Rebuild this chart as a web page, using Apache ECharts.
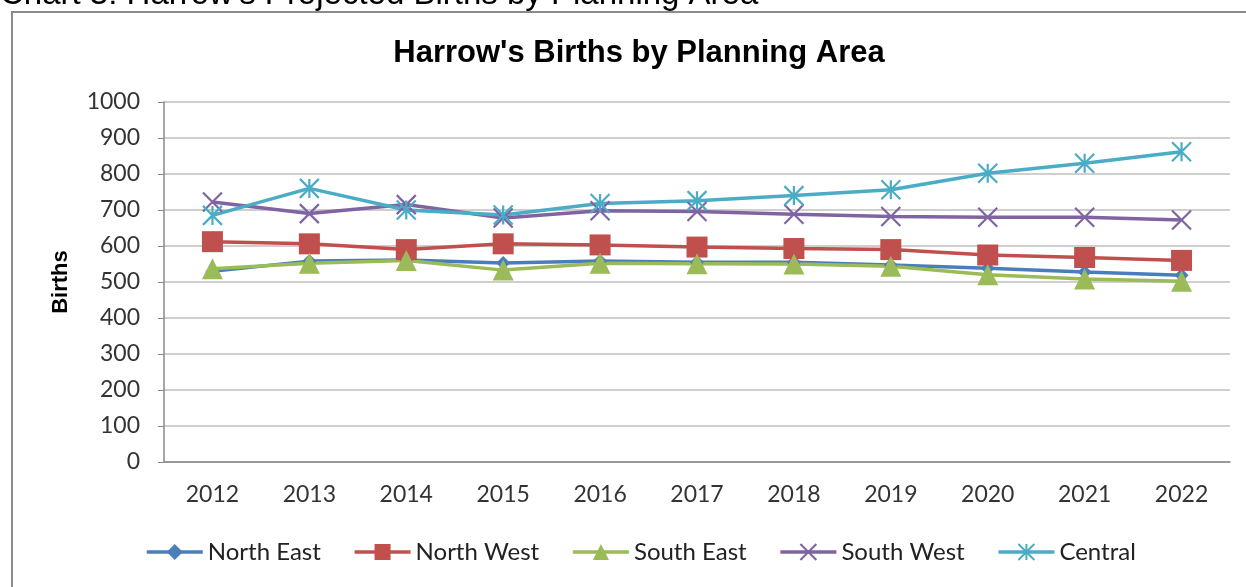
<!DOCTYPE html>
<html>
<head>
<meta charset="utf-8">
<script src="https://cdn.jsdelivr.net/npm/echarts@6/dist/echarts.min.js"></script>
<style>
  html, body { margin: 0; padding: 0; background: #fff; }
  #main { width: 1246px; height: 587px; }
</style>
</head>
<body>
<div id="main"></div>
<script>
const years = ['2012', '2013', '2014', '2015', '2016', '2017', '2018', '2019', '2020', '2021', '2022']
const northEast = [530, 558, 561, 553, 558, 555, 555, 547, 538, 528, 519]
const northWest = [612, 606, 590, 606, 603, 597, 593, 590, 575, 568, 560]
const southEast = [537, 552, 560, 533, 552, 551, 550, 544, 520, 508, 502]
const southWest = [722, 690, 715, 678, 698, 696, 688, 682, 680, 680, 672]
const central = [685, 760, 700, 686, 718, 726, 740, 756, 802, 830, 862]

const crossPath = 'path://M0 0L20 20M20 0L0 20'
const starPath = 'path://M0 0L20 20M20 0L0 20M10 0L10 20'

function solid(name, data, color, symbol, size) {
  return {
    name: name,
    type: 'line',
    data: data,
    symbol: symbol,
    symbolSize: size,
    itemStyle: { color: color },
    lineStyle: { color: color, width: 3.5 }
  }
}

function stroked(name, data, color, symbol, size) {
  return {
    name: name,
    type: 'line',
    data: data,
    symbol: symbol,
    symbolSize: size,
    itemStyle: { color: 'rgba(0,0,0,0)', borderColor: color, borderWidth: 2.2 },
    lineStyle: { color: color, width: 3.5 }
  }
}

let myChart = echarts.init(document.getElementById('main'))
let option = {
  animation: false,
  title: {
    text: "Harrow's Births by Planning Area",
    left: 634,
    textAlign: 'center',
    top: 33,
    textStyle: { fontFamily: 'Liberation Sans', fontWeight: 'bold', fontSize: 31, color: '#000' }
  },
  graphic: [
    {
      type: 'rect',
      shape: { x: 12, y: 12, width: 1250, height: 600 },
      style: { fill: 'none', stroke: '#8c8c8c', lineWidth: 2 }
    },
    {
      type: 'text',
      left: 0,
      top: -22,
      style: { text: "Chart 3: Harrow's Projected Births by Planning Area", fontFamily: 'Liberation Sans', fontSize: 33, fill: '#000' }
    }
  ],
  grid: { left: 164, right: 16, top: 102, bottom: 125 },
  legend: {
    bottom: 18,
    left: 140,
    itemWidth: 56,
    itemHeight: 20,
    itemGap: 32,
    lineStyle: { width: 3.5 },
    textStyle: { fontFamily: 'Lato', fontSize: 24, color: '#222' },
    data: ['North East', 'North West', 'South East', 'South West', 'Central']
  },
  xAxis: {
    type: 'category',
    data: years,
    boundaryGap: true,
    axisLine: { lineStyle: { color: '#888', width: 1.5 } },
    axisTick: { show: false },
    axisLabel: { fontFamily: 'Lato', fontSize: 23, color: '#333', margin: 21 },
    splitLine: { show: false }
  },
  yAxis: {
    type: 'value',
    min: 0,
    max: 1000,
    interval: 100,
    name: 'Births',
    nameLocation: 'middle',
    nameRotate: 90,
    nameGap: 92,
    nameTextStyle: { fontFamily: 'Liberation Sans', fontWeight: 'bold', fontSize: 22, color: '#000' },
    axisLine: { show: true, lineStyle: { color: '#888', width: 1.5 } },
    axisTick: { show: true, length: 6, lineStyle: { color: '#888' } },
    axisLabel: { fontFamily: 'Lato', fontSize: 23, color: '#333', margin: 24, formatter: function (v) { return String(v) } },
    splitLine: { lineStyle: { color: '#bfbfbf', width: 1.5 } }
  },
  series: [
    solid('North East', northEast, '#4a7ebb', 'diamond', 14),
    solid('North West', northWest, '#c0504d', 'rect', 21),
    solid('South East', southEast, '#9bbb59', 'triangle', 21),
    stroked('South West', southWest, '#8064a2', crossPath, 19),
    stroked('Central', central, '#4bacc6', starPath, 19)
  ]
}
myChart.setOption(option)
</script>
</body>
</html>
